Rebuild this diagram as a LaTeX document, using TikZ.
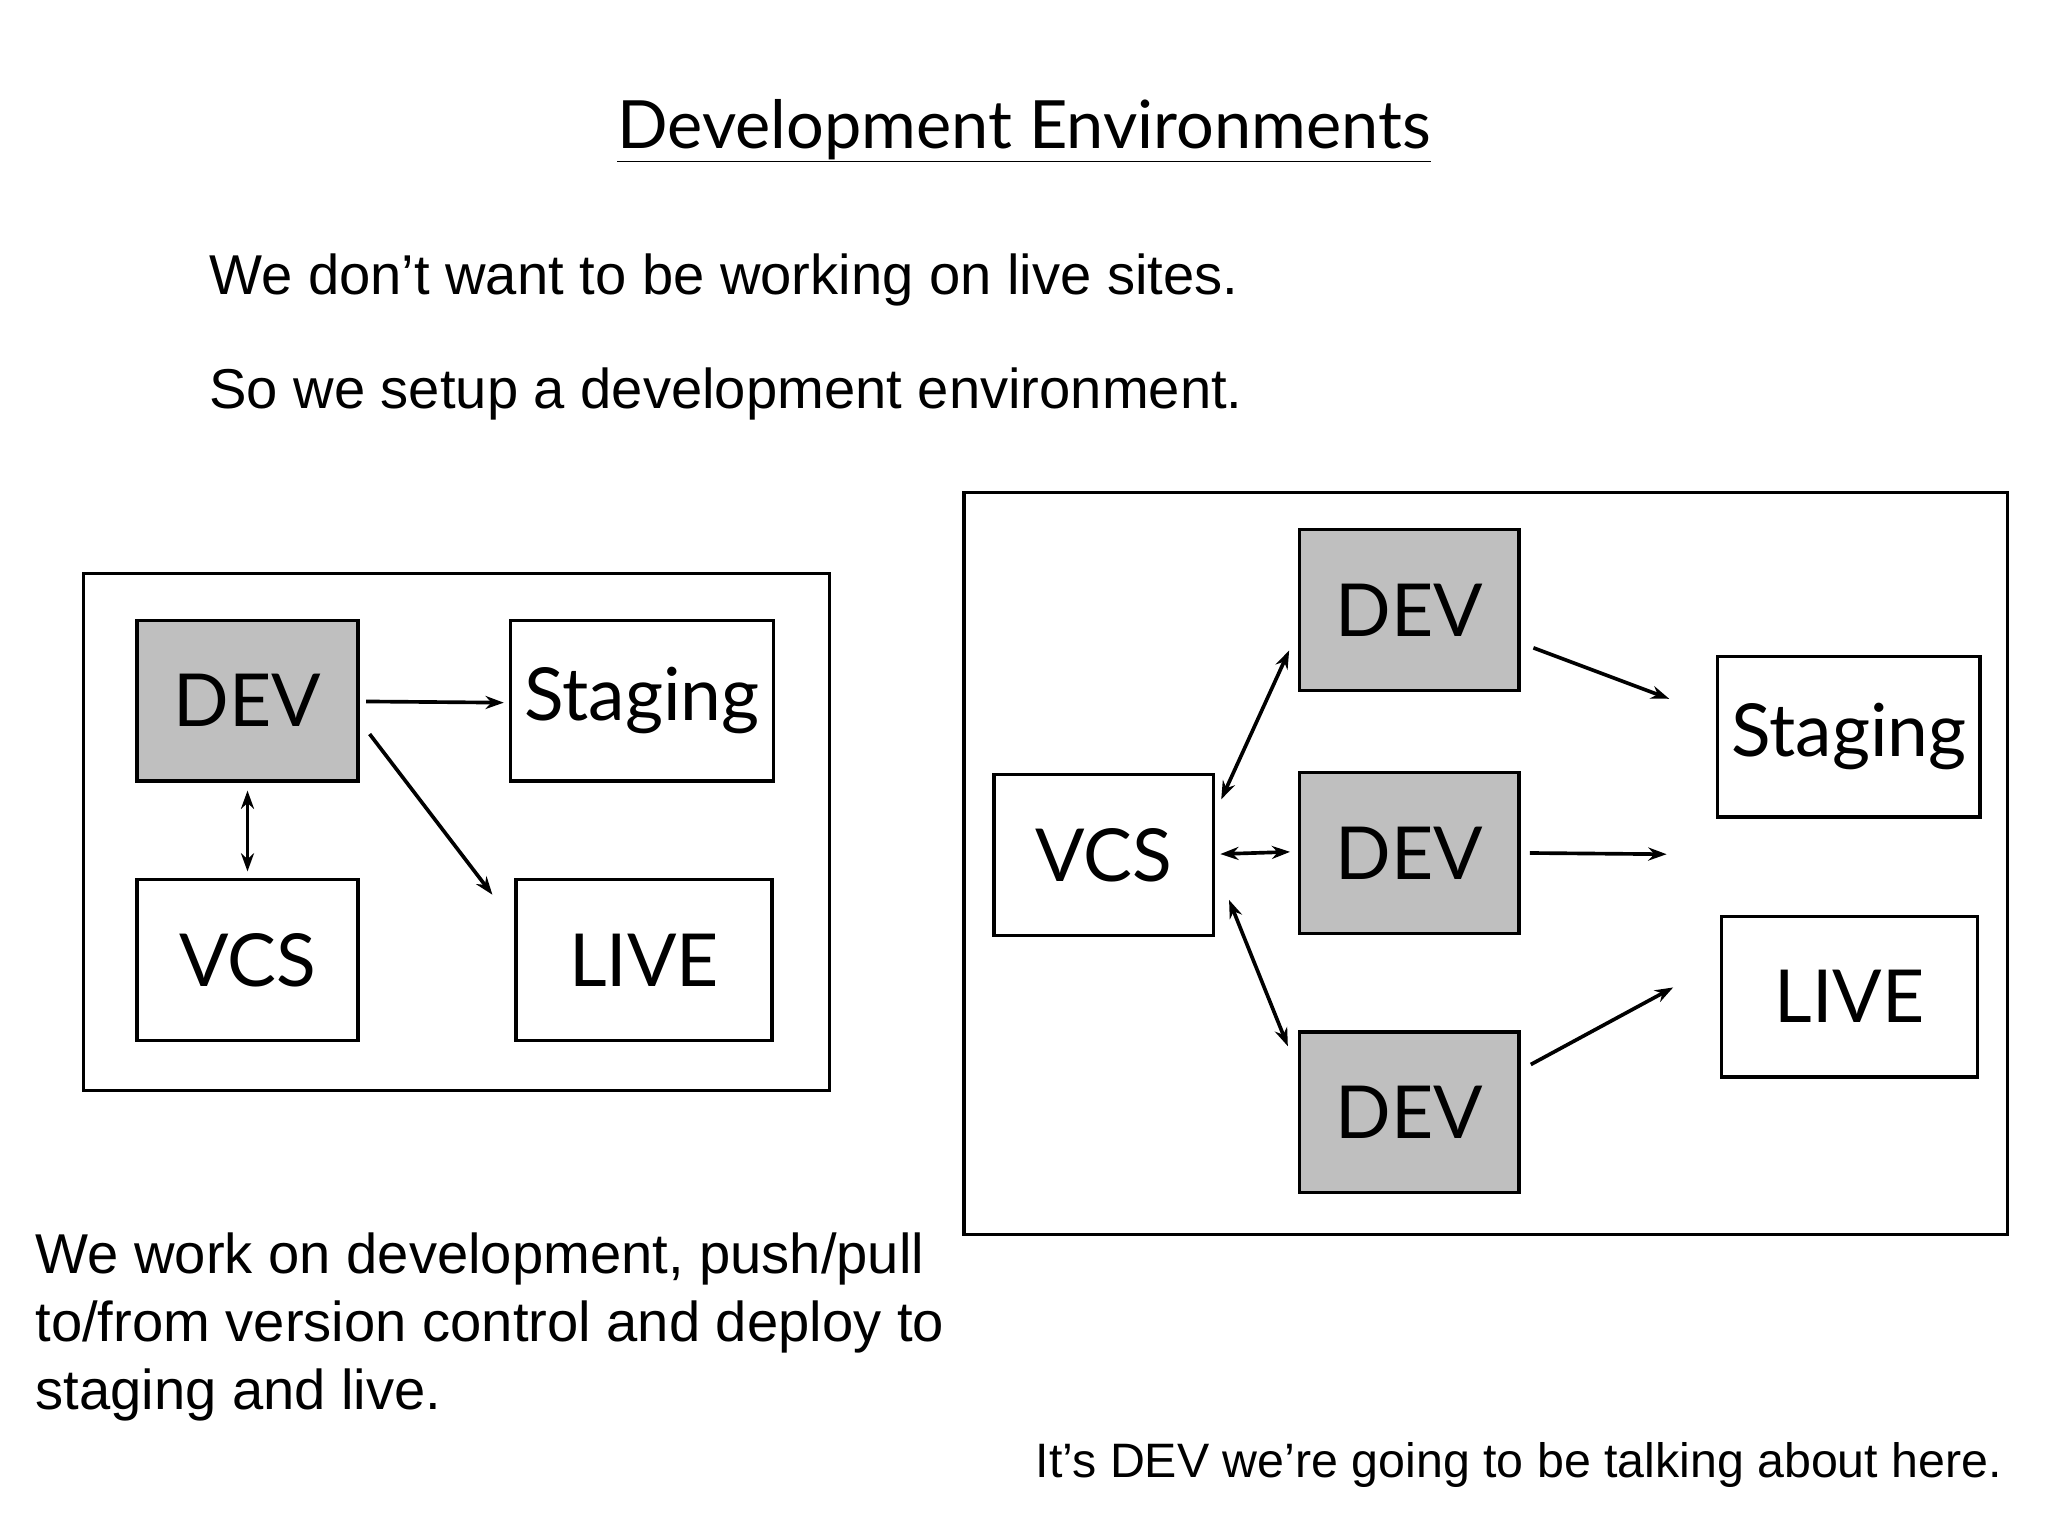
\documentclass[tikz,border=0pt]{standalone}
\usepackage{fontspec}
\setmainfont{Liberation Sans}
\newfontfamily\gill{Lato}
\usetikzlibrary{arrows.meta}
\begin{document}
\begin{tikzpicture}[x=1pt,y=-1pt,
  bx/.style={draw,line width=2.6pt,minimum width=168pt,minimum height=123pt,inner sep=0pt,font=\gill\fontsize{56}{60}\selectfont},
  gbx/.style={bx,fill=black!25},
  arr/.style={line width=2.8pt,-{Stealth[length=14pt,width=10pt]}},
  darr/.style={line width=2.8pt,{Stealth[length=14pt,width=10pt]}-{Stealth[length=14pt,width=10pt]}},
  txt/.style={font=\fontsize{43}{52}\selectfont,inner sep=0pt}]
\useasboundingbox[fill=white] (0,0) rectangle (1568,1176);
\node[font=\gill\fontsize{51}{55}\selectfont,inner sep=0pt] (title) at (784,100) {\underline{Development Environments}};
\node[txt,anchor=west] (t1) at (160,214) {We don’t want to be working on live sites.};
\node[txt,anchor=west] (t2) at (160,302) {So we setup a development environment.};
\node[txt,anchor=north west,align=left] (t3) at (27,944) {We work on development, push/pull\\to/from version control and deploy to\\staging and live.};
\node[font=\fontsize{37}{44}\selectfont,inner sep=0pt,anchor=east] (t4) at (1533,1122) {It’s DEV we’re going to be talking about here.};
% left
\node[draw,line width=2.6pt,minimum width=571pt,minimum height=396pt] (L) at (349.5,637) {};
\node[gbx,minimum width=169pt] (ld) at (189.5,536.5) {DEV};
\node[bx,minimum width=201pt] (ls) at (491.5,536.5) {Staging};
\node[bx,minimum width=169pt] (lv) at (189.5,735) {VCS};
\node[bx,minimum width=196pt] (ll) at (493,735) {LIVE};
\draw[arr,shorten <=5pt,shorten >=4pt] (ld.east|-0,537) -- (ls.west|-0,538);
\draw[arr] (283,562) coordinate (a1) -- (377,685) coordinate (a2);
\draw[darr,shorten <=6pt,shorten >=5pt] (ld.south) -- (lv.north);
% right
\node[draw,line width=2.6pt,minimum width=799pt,minimum height=568pt] (R) at (1137.5,661) {};
\node[bx] (rv) at (845,654.5) {VCS};
\node[gbx] (d1) at (1079,467) {DEV};
\node[gbx] (d2) at (1079,653) {DEV};
\node[gbx] (d3) at (1079,851.5) {DEV};
\node[bx,minimum width=201pt] (rs) at (1415.5,564) {Staging};
\node[bx,minimum width=196pt] (rl) at (1416,763) {LIVE};
\coordinate (p1) at (935,612); \coordinate (q1) at (987,498);
\coordinate (p3) at (941,689); \coordinate (q3) at (986,801);
\draw[darr] (p1) -- (q1);
\draw[darr,shorten <=4pt,shorten >=6pt] (rv.east|-0,654) -- (d2.west|-0,652);
\draw[darr] (p3) -- (q3);
\coordinate (e1) at (1278,535); \coordinate (e2) at (1276,654); \coordinate (e3) at (1281,756);
\draw[arr] (1174,496) -- (e1);
\draw[arr,shorten <=7pt] (d2.east) -- (e2);
\draw[arr] (1172,815) -- (e3);
\end{tikzpicture}
\end{document}
